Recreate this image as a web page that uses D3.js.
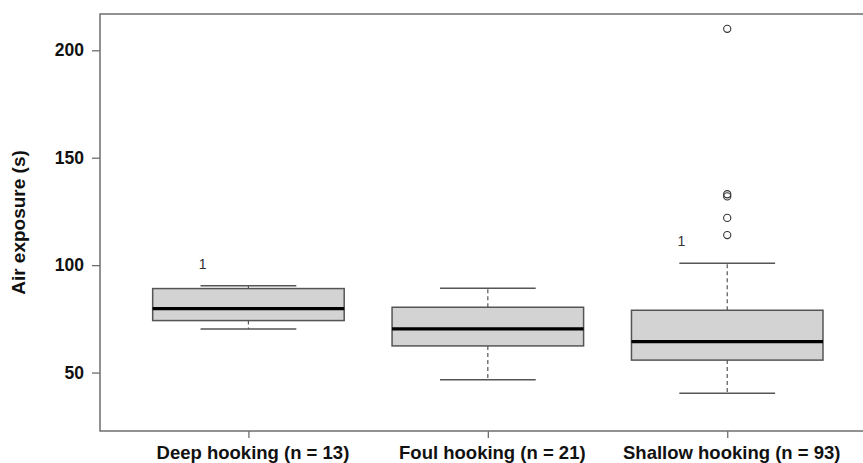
<!DOCTYPE html>
<html>
<head>
<meta charset="utf-8">
<script src="https://cdn.jsdelivr.net/npm/d3@7"></script>
<style>
  html, body { margin: 0; padding: 0; background: #fff; }
  svg { display: block; font-family: "Liberation Sans", Arial, sans-serif; }
</style>
</head>
<body>
<svg id="chart" width="863" height="463"></svg>
<script>
// Air exposure by hooking location: five-number summaries per group
const categories = ["Deep hooking (n = 13)", "Foul hooking (n = 21)", "Shallow hooking (n = 93)"];
const lowerWhisker = [70.3, 46.6, 40.4];
const q1 = [74.2, 62.4, 55.8];
const median = [79.8, 70.3, 64.4];
const q3 = [89.1, 80.4, 79.0];
const upperWhisker = [90.4, 89.3, 100.9];
// Outlying observations (group index, value)
const outlierGroup = [2, 2, 2, 2, 2];
const outlierValue = [210, 133, 132, 122, 114];
// Small "1" annotations above the upper whisker
const noteGroup = [0, 2];
const noteText = ["1", "1"];
const yTicks = [50, 100, 150, 200];

const svg = d3.select("#chart");
const plotLeft = 100, plotTop = 14, plotBottom = 431;
const step = 239.4;

// x position 1..3 for groups, base-graphics style padding
const x = d3.scaleLinear().domain([0.38, 3.62]).range([plotLeft, plotLeft + 3.24 * step]);
const y = d3.scaleLinear().domain([22.8, 216.9]).range([plotBottom, plotTop]);

const axisColor = "#6e6e6e";
const boxHalf = 0.4, capHalf = 0.2;

// plot frame (right side runs past the canvas edge)
svg.append("rect")
  .attr("x", plotLeft).attr("y", plotTop)
  .attr("width", x(3.62) - plotLeft).attr("height", plotBottom - plotTop)
  .attr("fill", "none").attr("stroke", axisColor).attr("stroke-width", 1.5);

// y axis
const yAxis = d3.axisLeft(y).tickValues(yTicks).tickSize(8).tickPadding(8);
const gy = svg.append("g").attr("transform", `translate(${plotLeft},0)`).call(yAxis);
gy.select(".domain").remove();
gy.selectAll(".tick line").attr("stroke", axisColor).attr("stroke-width", 1.3);
gy.selectAll(".tick text").attr("fill", "#111").style("font-size", "17.5px").style("font-weight", "bold")
  .style("font-family", "Liberation Sans, Arial, sans-serif");

// x axis
const xAxis = d3.axisBottom(x).tickValues([1, 2, 3]).tickFormat((d) => categories[d - 1]).tickSize(7);
const gx = svg.append("g").attr("transform", `translate(0,${plotBottom})`).call(xAxis);
gx.select(".domain").remove();
gx.selectAll(".tick line").attr("stroke", axisColor).attr("stroke-width", 1.3);
gx.selectAll(".tick text").attr("y", 28).attr("dy", "0").attr("dx", "4")
  .attr("fill", "#111").style("font-size", "18.5px").style("font-weight", "bold")
  .style("font-family", "Liberation Sans, Arial, sans-serif");

// y axis title
svg.append("text")
  .attr("transform", `translate(25,${(plotTop + plotBottom) / 2}) rotate(-90)`)
  .attr("text-anchor", "middle")
  .attr("fill", "#111")
  .style("font-size", "19px").style("font-weight", "bold")
  .text("Air exposure (s)");

const groups = categories.map((c, i) => ({
  pos: i + 1, lo: lowerWhisker[i], q1: q1[i], med: median[i], q3: q3[i], hi: upperWhisker[i]
}));

const g = svg.append("g");
const lineColor = "#555";

// whiskers (dashed)
g.selectAll(".whisker-lo").data(groups).join("line")
  .attr("x1", (d) => x(d.pos)).attr("x2", (d) => x(d.pos))
  .attr("y1", (d) => y(d.q1)).attr("y2", (d) => y(d.lo))
  .attr("stroke", lineColor).attr("stroke-width", 1.2).attr("stroke-dasharray", "4,3");
g.selectAll(".whisker-hi").data(groups).join("line")
  .attr("x1", (d) => x(d.pos)).attr("x2", (d) => x(d.pos))
  .attr("y1", (d) => y(d.q3)).attr("y2", (d) => y(d.hi))
  .attr("stroke", lineColor).attr("stroke-width", 1.2).attr("stroke-dasharray", "4,3");

// whisker caps
["lo", "hi"].forEach((k) => {
  g.selectAll(".cap-" + k).data(groups).join("line")
    .attr("x1", (d) => x(d.pos - capHalf)).attr("x2", (d) => x(d.pos + capHalf))
    .attr("y1", (d) => y(d[k])).attr("y2", (d) => y(d[k]))
    .attr("stroke", lineColor).attr("stroke-width", 1.5);
});

// boxes
g.selectAll(".box").data(groups).join("rect")
  .attr("x", (d) => x(d.pos - boxHalf))
  .attr("width", (d) => x(d.pos + boxHalf) - x(d.pos - boxHalf))
  .attr("y", (d) => y(d.q3))
  .attr("height", (d) => y(d.q1) - y(d.q3))
  .attr("fill", "#d3d3d3").attr("stroke", lineColor).attr("stroke-width", 1.5);

// medians
g.selectAll(".median").data(groups).join("line")
  .attr("x1", (d) => x(d.pos - boxHalf)).attr("x2", (d) => x(d.pos + boxHalf))
  .attr("y1", (d) => y(d.med)).attr("y2", (d) => y(d.med))
  .attr("stroke", "#000").attr("stroke-width", 3.2);

// outliers
g.selectAll(".outlier").data(outlierValue.map((v, i) => ({ pos: outlierGroup[i] + 1, v })))
  .join("circle")
  .attr("cx", (d) => x(d.pos)).attr("cy", (d) => y(d.v)).attr("r", 3.6)
  .attr("fill", "none").attr("stroke", "#333").attr("stroke-width", 1.1);

// annotations
g.selectAll(".note").data(noteGroup.map((gi, i) => ({ pos: gi + 1, t: noteText[i], hi: upperWhisker[gi] })))
  .join("text")
  .attr("x", (d) => x(d.pos - capHalf) + 2)
  .attr("y", (d) => y(d.hi) - 17)
  .attr("text-anchor", "middle")
  .attr("fill", "#333")
  .style("font-size", "14px")
  .text((d) => d.t);
</script>
</body>
</html>
